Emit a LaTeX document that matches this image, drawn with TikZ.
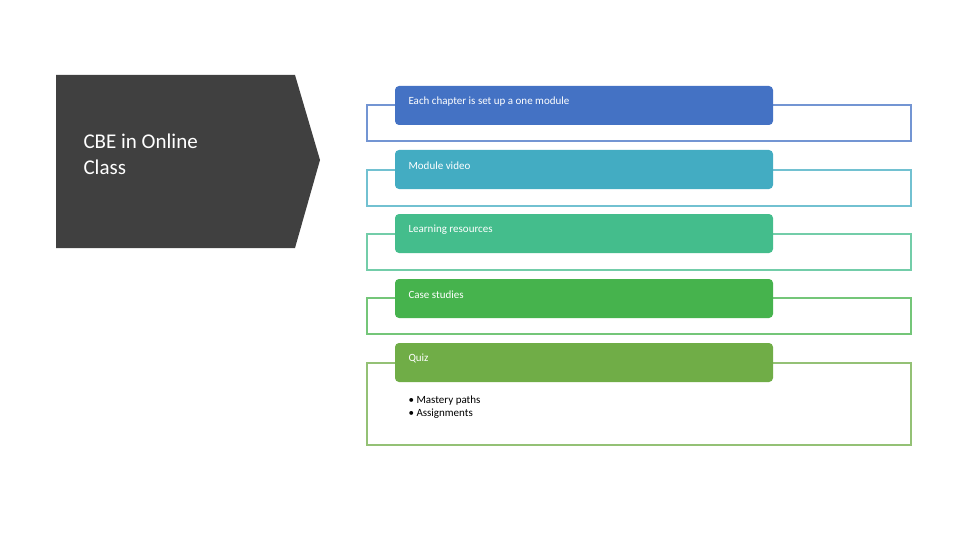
\documentclass[tikz,border=0pt]{standalone}
\usepackage{fontspec}
\setmainfont{Carlito}
\begin{document}
\begin{tikzpicture}[x=1pt,y=-1pt,
  outl/.style={draw=#1, line width=1.5pt, fill=white},
  head/.style={fill=#1, rounded corners=4pt, draw=none},
  htxt/.style={text=white, font=\fontsize{11}{13}\selectfont, anchor=west},
  btxt/.style={text=black, font=\fontsize{11}{13}\selectfont, anchor=west, align=left}]
\definecolor{c1}{HTML}{4472C4}\definecolor{c2}{HTML}{43ACC2}
\definecolor{c3}{HTML}{44BD8C}\definecolor{c4}{HTML}{46B34D}
\definecolor{c5}{HTML}{70AD47}\definecolor{dk}{HTML}{404040}
\useasboundingbox (0,0) rectangle (960,540);
\fill[dk] (56,75) -- (295,75) -- (320,160) -- (295,248) -- (56,248) -- cycle;
\node[anchor=north west, text=white, align=left, font=\fontsize{21}{26}\selectfont] (t) at (80,130) {CBE in Online\\Class};
\foreach \i/\c/\ot/\ob/\ht/\tx in {1/c1/105/141/86/Each chapter is set up a one module,2/c2/170/206/150/Module video,3/c3/234/270/214/Learning resources,4/c4/298/334/279/Case studies,5/c5/363/445/343/Quiz}{
  \draw[outl=\c!75] (367,\ot) rectangle (911,\ob);
  \fill[head=\c] (395,\ht) rectangle (773,\ht+39);
  \node[htxt] (h\i) at (405,\ht+19.5) {\tx};
}
\node[btxt, anchor=north west] (b) at (405,392) {• Mastery paths\\• Assignments};
\end{tikzpicture}
\end{document}
